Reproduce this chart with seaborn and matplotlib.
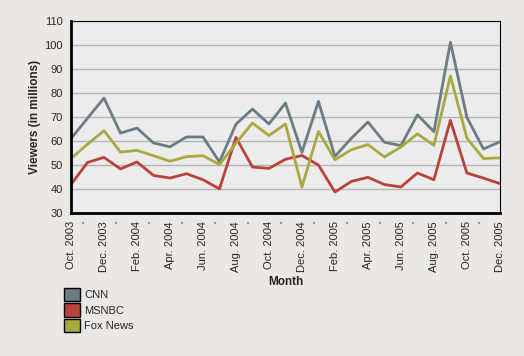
import matplotlib
matplotlib.use("Agg")
import matplotlib.pyplot as plt
from matplotlib.patches import Patch
import seaborn as sns
import pandas as pd

months = ["Oct. 2003", "Nov. 2003", "Dec. 2003", "Jan. 2004", "Feb. 2004", "Mar. 2004",
          "Apr. 2004", "May 2004", "Jun. 2004", "Jul. 2004", "Aug. 2004", "Sep. 2004",
          "Oct. 2004", "Nov. 2004", "Dec. 2004", "Jan. 2005", "Feb. 2005", "Mar. 2005",
          "Apr. 2005", "May 2005", "Jun. 2005", "Jul. 2005", "Aug. 2005", "Sep. 2005",
          "Oct. 2005", "Nov. 2005", "Dec. 2005"]
cnn = [60.9, 69.4, 77.8, 63.2, 65.3, 59.1, 57.5, 61.6, 61.6, 51.2, 66.9, 73.2, 67.0, 75.7,
       55.2, 76.4, 53.5, 61.1, 67.8, 59.4, 58.0, 70.8, 63.8, 101.0, 69.8, 56.6, 59.6]
msnbc = [41.8, 51.0, 53.1, 48.3, 51.2, 45.6, 44.5, 46.3, 43.8, 40.0, 61.4, 49.1, 48.5, 52.3,
         53.9, 49.9, 38.7, 43.1, 44.8, 41.8, 40.8, 46.6, 43.8, 68.5, 46.6, 44.5, 42.2]
fox = [52.6, 58.6, 64.2, 55.3, 56.0, 53.8, 51.5, 53.4, 53.8, 50.1, 59.0, 67.4, 62.2, 67.0,
       40.7, 63.9, 52.1, 56.3, 58.4, 53.3, 57.4, 62.9, 58.1, 87.0, 61.1, 52.6, 52.9]
networks = ["CNN", "MSNBC", "Fox News"]
colors = ["#6b7c85", "#b9433a", "#a8a93e"]
tick_labels = [m if i % 2 == 0 else "'" for i, m in enumerate(months)]
yticks = list(range(30, 111, 10))

rows = []
for name, vals in zip(networks, [cnn, msnbc, fox]):
    for i, v in enumerate(vals):
        rows.append({"idx": i, "Viewers": v, "Network": name})
df = pd.DataFrame(rows)

sns.set_style("white")
plt.rcParams["font.family"] = ["Liberation Sans", "DejaVu Sans"]

fig = plt.figure(figsize=(5.24, 3.56), dpi=100, facecolor="#e9e8e5")
ax = fig.add_axes([0.1355, 0.402, 0.8185, 0.540])
ax.set_facecolor("#ececec")

sns.lineplot(data=df, x="idx", y="Viewers", hue="Network", hue_order=networks,
             palette=colors, linewidth=2.0, ax=ax, legend=False)

ax.set_xlim(0, len(months) - 1)
ax.set_ylim(30, 110)
ax.set_yticks(yticks)
ax.set_yticklabels([str(t) for t in yticks], fontsize=8)
ax.set_xticks(range(len(months)))
ax.set_xticklabels(tick_labels, rotation=90, fontsize=8)
ax.yaxis.grid(True, color="#b4b4b4", linewidth=1)
ax.set_axisbelow(True)
ax.tick_params(axis="both", direction="out", length=4, width=1, color="black", pad=2)
for s in ["top", "right"]:
    ax.spines[s].set_color("black")
    ax.spines[s].set_linewidth(0.8)
for s in ["left", "bottom"]:
    ax.spines[s].set_color("black")
    ax.spines[s].set_linewidth(2)

ax.set_xlabel("Month", fontsize=8.5, fontweight="bold", labelpad=3)
ax.set_ylabel("Viewers (in millions)", fontsize=8.5, fontweight="bold", labelpad=2)

handles = [Patch(facecolor=c, edgecolor="black", linewidth=1) for c in colors]
fig.legend(handles, networks, loc="upper left", bbox_to_anchor=(0.122, 0.191),
           frameon=False, fontsize=8, handlelength=1.45, handleheight=1.45,
           handletextpad=0.4, labelspacing=0.2, borderaxespad=0, borderpad=0)

fig.savefig("out.png", dpi=100, facecolor=fig.get_facecolor())
